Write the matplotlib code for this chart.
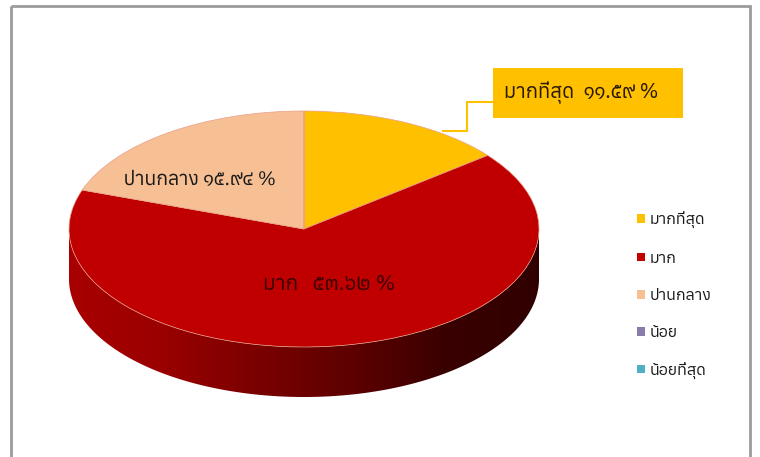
"""Pie chart with Thai labels, fake 3D wall under the top disc."""

import matplotlib
matplotlib.use("Agg")
import matplotlib.font_manager as fm
import matplotlib.patheffects as pe
import matplotlib.pyplot as plt
import numpy as np
from matplotlib.colors import LinearSegmentedColormap
from matplotlib.patches import Patch, Polygon, Rectangle

categories = ["มากที่สุด", "มาก", "ปานกลาง", "น้อย", "น้อยที่สุด"]
values = [11.59, 53.62, 15.94, 0, 0]
value_labels = ["๑๑.๕๙", "๕๓.๖๒", "๑๕.๙๔"]
colors = ["#FFC000", "#C00000", "#F6BF94", "#8A7CA8", "#4FADC4"]
wall_colors = ["#A80000", "#9A0000", "#7A0000", "#5E0000", "#3A0000", "#300000"]


def thai_fonts():
    names = []
    for entry in fm.fontManager.ttflist:
        try:
            if 0x0E21 in fm.get_font(entry.fname).get_charmap():
                names.append(entry.name)
        except (OSError, RuntimeError):
            pass
    return sorted(set(names))


plt.rcParams["font.family"] = thai_fonts()[:1] + ["DejaVu Sans"]

W, H = 760, 457
fig = plt.figure(figsize=(W / 100, H / 100), dpi=100, facecolor="white")

# outer frame of the chart, figure pixel coords
bg = fig.add_axes([0, 0, 1, 1])
bg.set_xlim(0, W)
bg.set_ylim(H, 0)
bg.axis("off")
bg.add_patch(Rectangle((11, 6), 739, 470, fill=False, ec="#9C9C9C", lw=2))

# top disc spans x 69-539, y 111-347; wall drops 50 px below it
left, right, top, bottom = 69, 539, 111, 347
depth = 50 / ((bottom - top) / 2)
ax = fig.add_axes([left / W, (H - bottom - 50) / H, (right - left) / W, (bottom - top + 50) / H])

wedges, _ = ax.pie(values, colors=colors, startangle=90, counterclock=False, radius=1,
                   wedgeprops={"linewidth": 0.5, "edgecolor": "#E8A08A", "zorder": 3})
ax.set_aspect("auto")
ax.set_xlim(-1, 1)
ax.set_ylim(-1 - depth, 1)
ax.axis("off")

theta = np.linspace(np.pi, 2 * np.pi, 200)
wall_x = np.concatenate([np.cos(theta), np.cos(theta)[::-1]])
wall_y = np.concatenate([np.sin(theta) - depth, np.sin(theta)[::-1]])
wall = Polygon(np.column_stack([wall_x, wall_y]), closed=True, fc="none", ec="none", transform=ax.transData)
ax.add_patch(wall)
cmap = LinearSegmentedColormap.from_list("wall", wall_colors)
grad = ax.imshow(np.linspace(0, 1, 256)[None, :], extent=(-1, 1, -1 - depth, 1), cmap=cmap,
                 aspect="auto", zorder=1)
grad.set_clip_path(wall)

# data labels
bg.set_zorder(5)
peach_txt = bg.text(200, 180, f"{categories[2]} {value_labels[2]} %", ha="center", va="center",
                    fontsize=14, color="#1A1A1A")
peach_txt.set_path_effects([pe.SimpleLineShadow(offset=(1, -1), alpha=0.3), pe.Normal()])
bg.text(329, 284, f"{categories[1]}   {value_labels[1]} %", ha="center", va="center", fontsize=15, color="#3A0000")

# callout for the top category
bg.plot([443, 467, 467, 493], [131, 131, 102, 102], color="#FFC000", lw=1.5)
bg.add_patch(Rectangle((493, 68), 190, 50, fc="#FFC000", ec="none"))
bg.text(581, 93, f"{categories[0]}  {value_labels[0]} %", ha="center", va="center", fontsize=14.5, color="#2A1A00")

handles = [Patch(fc=c, ec="none") for c in colors]
fig.legend(handles, categories, loc="center left", bbox_to_anchor=(623 / W, 1 - 295 / H), frameon=False,
           fontsize=11.5, handlelength=0.45, handleheight=0.45, handletextpad=0.3, labelspacing=1.34,
           labelcolor="#1A1A1A")

fig.savefig("out.png", dpi=100)
